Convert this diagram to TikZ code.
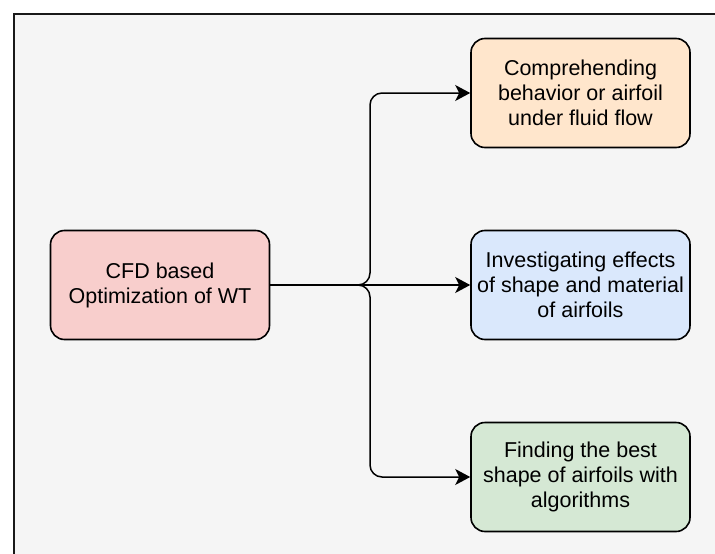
\documentclass[tikz,border=0pt]{standalone}
\usepackage{fontspec}
\setmainfont{Liberation Sans}
\usetikzlibrary{arrows.meta}
\definecolor{panel}{HTML}{F5F5F5}
\definecolor{redfill}{HTML}{F8CECC}
\definecolor{orangefill}{HTML}{FFE6CC}
\definecolor{bluefill}{HTML}{DAE8FC}
\definecolor{greenfill}{HTML}{D5E8D4}
\tikzset{
  box/.style={draw=black, line width=1.6pt, rounded corners=14pt,
    minimum width=219pt, minimum height=109pt, align=center,
    inner sep=0pt, font=\fontsize{21.5pt}{25pt}\selectfont},
  link/.style={draw=black, line width=1.5pt, rounded corners=12pt,
    -{Stealth[length=15pt, width=16pt, inset=4pt]}}
}
\begin{document}
\begin{tikzpicture}[x=1pt, y=-1pt]
  \useasboundingbox (0,0) rectangle (715,554);
  % grey panel with its frame
  \fill[panel] (14,14) rectangle (715,554);
  \draw[line width=2pt, black!90] (14,554) -- (14,14) -- (715,14);

  % boxes
  \node[box, fill=redfill] (cfd) at (160,285) {CFD based\\Optimization of WT};
  \node[box, fill=orangefill] (flow) at (580.5,93) {Comprehending\\behavior or airfoil\\under fluid flow};
  \node[box, fill=bluefill] (shape) at (580.5,285) {Investigating effects\\of shape and material\\of airfoils};
  \node[box, fill=greenfill] (best) at (580.5,477) {Finding the best\\shape of airfoils with\\algorithms};

  % branch point of the connectors
  \coordinate (split) at (370,285);

  % connectors
  \draw[link] (cfd.east) -- (split) |- (flow.west);
  \draw[link] (cfd.east) -- (shape.west);
  \draw[link] (cfd.east) -- (split) |- (best.west);
\end{tikzpicture}
\end{document}
